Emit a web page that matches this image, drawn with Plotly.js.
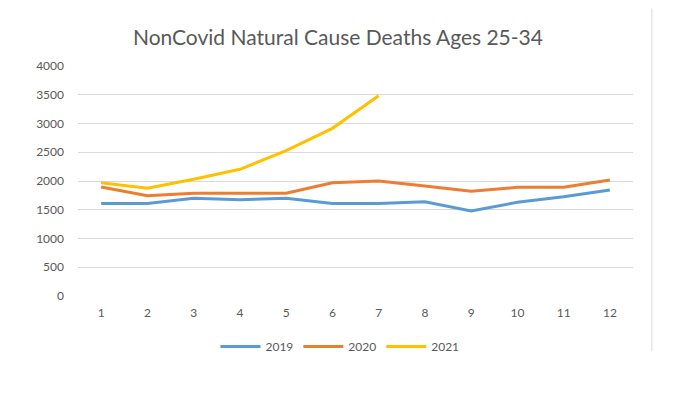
<!DOCTYPE html>
<html>
<head>
<meta charset="utf-8">
<script src="https://cdn.plot.ly/plotly-3.0.1.min.js"></script>
<style>html,body{margin:0;padding:0;background:#fff;}#chart{width:680px;height:413px;}</style>
</head>
<body>
<div id="chart"></div>
<script>
const months = [1, 2, 3, 4, 5, 6, 7, 8, 9, 10, 11, 12];
const months2021 = [1, 2, 3, 4, 5, 6, 7];
const deaths2019 = [1610, 1610, 1700, 1675, 1700, 1610, 1610, 1640, 1478, 1630, 1725, 1843];
const deaths2020 = [1896, 1745, 1786, 1786, 1786, 1971, 2000, 1913, 1820, 1890, 1890, 2017];
const deaths2021 = [1971, 1873, 2029, 2203, 2527, 2916, 3484];
const yTicks = [0, 500, 1000, 1500, 2000, 2500, 3000, 3500, 4000];
const chartTitle = 'NonCovid Natural Cause Deaths Ages 25-34';

const font = 'Lato, "Open Sans", "Liberation Sans", sans-serif';
const traces = [
  {x: months, y: deaths2019, name: '2019', type: 'scatter', mode: 'lines', line: {color: '#5B9BD5', width: 3}},
  {x: months, y: deaths2020, name: '2020', type: 'scatter', mode: 'lines', line: {color: '#ED7D31', width: 3}},
  {x: months2021, y: deaths2021, name: '2021', type: 'scatter', mode: 'lines', line: {color: '#FFC000', width: 3}}
];
const layout = {
  width: 680, height: 413,
  margin: {l: 78, r: 47, t: 66, b: 117},
  paper_bgcolor: '#ffffff', plot_bgcolor: '#ffffff',
  font: {family: font, color: '#595959', size: 12},
  title: {text: chartTitle, font: {family: font, size: 21, color: '#595959'}, x: 0.497, xref: 'container', xanchor: 'center', y: 0.91, yanchor: 'middle'},
  xaxis: {
    range: [0.5, 12.5], tickmode: 'array', tickvals: months, ticktext: months.map(String),
    showgrid: false, zeroline: false, showline: false, ticks: '',
    ticklabelstandoff: 8,
    tickfont: {family: font, size: 12, color: '#595959'}, fixedrange: true
  },
  yaxis: {
    range: [0, 4000], tickmode: 'array', tickvals: yTicks, ticktext: yTicks.map(String),
    showgrid: true, gridcolor: '#d9d9d9', gridwidth: 1, zeroline: false, showline: false, ticks: '',
    ticklabelstandoff: 13,
    tickfont: {family: font, size: 12, color: '#595959'}, fixedrange: true
  },
  showlegend: true,
  legend: {orientation: 'h', x: 0.472, xanchor: 'center', y: -0.22, yanchor: 'middle',
           font: {family: font, size: 12, color: '#595959'}, itemwidth: 40},
  shapes: [
    {type: 'line', xref: 'paper', yref: 'paper', x0: 1.034, x1: 1.034, y0: 1.25, y1: -0.24,
     line: {color: '#d9d9d9', width: 1}}
  ]
};
Plotly.newPlot('chart', traces, layout, {displayModeBar: false, staticPlot: true});
</script>
</body>
</html>
